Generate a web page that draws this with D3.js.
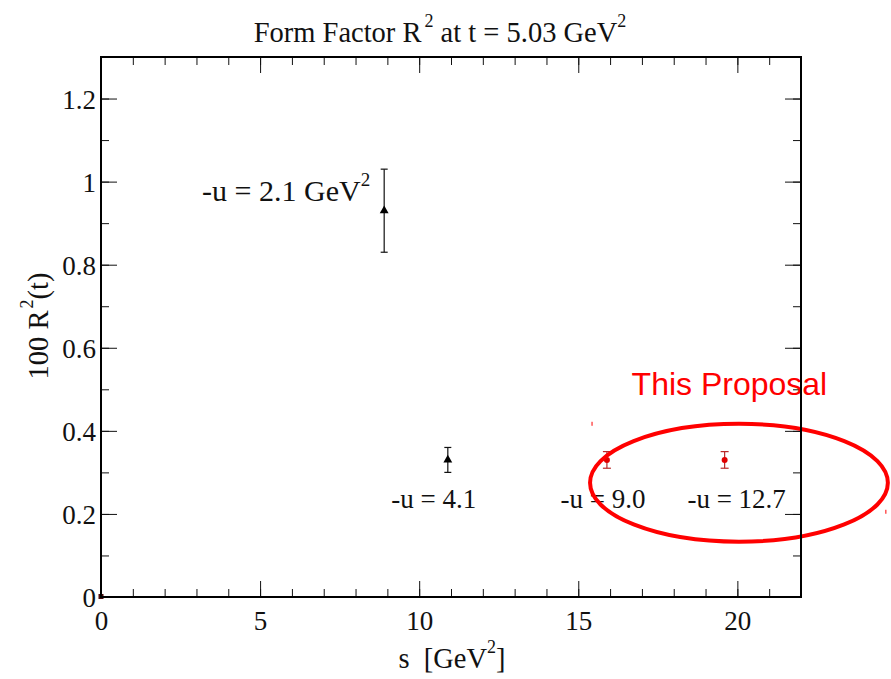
<!DOCTYPE html>
<html>
<head>
<meta charset="utf-8">
<script src="https://cdn.jsdelivr.net/npm/d3@7"></script>
<style>
  html, body { margin: 0; padding: 0; background: #fff; }
  svg { display: block; }
  .serif { font-family: "Liberation Serif", "Times New Roman", serif; }
</style>
</head>
<body>
<svg id="chart" width="891" height="679"></svg>
<script>
// Measured points (black triangles)
const measuredS   = [8.9, 10.9];
const measuredR   = [0.93, 0.33];
const measuredErr = [0.10, 0.03];
const measuredU   = ["2.1", "4.1"];

// Proposed points (red)
const proposalS   = [15.9, 19.6];
const proposalR   = [0.33, 0.33];
const proposalErr = [0.02, 0.02];
const proposalU   = ["9.0", "12.7"];

// Reference point at the origin
const originS = [0];
const originR = [0];

// Axis ticks
const xTicks = [0, 5, 10, 15, 20];
const xTickLabels = ["0", "5", "10", "15", "20"];
const xMinor = d3.range(0, 23, 1);
const yTicks = [0, 0.2, 0.4, 0.6, 0.8, 1.0, 1.2];
const yTickLabels = ["0", "0.2", "0.4", "0.6", "0.8", "1", "1.2"];
const yMinor = d3.range(0, 13).map(i => i / 10);

const svg = d3.select("#chart");
const plotL = 101, plotR = 801, plotT = 57, plotB = 597;

const x = d3.scaleLinear().domain([0, 22]).range([plotL, plotR]);
const y = d3.scaleLinear().domain([0, 1.3]).range([plotB, plotT]);

const FS = 27;    // tick labels
const FT = 28.5;  // titles and point labels

// Title
const title = svg.append("text").attr("class", "serif")
  .attr("x", 440).attr("y", 42).attr("text-anchor", "middle")
  .attr("font-size", FT).attr("fill", "#111");
title.append("tspan").text("Form Factor R");
title.append("tspan").attr("dx", 3).attr("dy", -15).attr("font-size", 18).text("2");
title.append("tspan").attr("dy", 15).text(" at t = 5.03 GeV");
title.append("tspan").attr("dy", -15).attr("font-size", 18).text("2");

// Axis title (x)
const xl = svg.append("text").attr("class", "serif")
  .attr("x", 452).attr("y", 668).attr("text-anchor", "middle")
  .attr("font-size", FT).attr("fill", "#111");
xl.append("tspan").text("s\u00a0\u00a0[GeV");
xl.append("tspan").attr("dy", -15).attr("font-size", 18).text("2");
xl.append("tspan").attr("dy", 15).text("]");

// Axis title (y)
const yl = svg.append("text").attr("class", "serif")
  .attr("transform", "translate(48,326) rotate(-90)")
  .attr("text-anchor", "middle")
  .attr("font-size", FT).attr("fill", "#111");
yl.append("tspan").text("100 R");
yl.append("tspan").attr("dx", 2).attr("dy", -15).attr("font-size", 18).text("2");
yl.append("tspan").attr("dy", 15).text("(t)");

// Axes: major ticks with labels, minor ticks, drawn inward on all four sides
function styleAxis(g) {
  g.select(".domain").remove();
  g.selectAll(".tick line").attr("stroke", "#111").attr("stroke-width", 1);
}

const gxB = svg.append("g").attr("transform", `translate(0,${plotB})`)
  .call(d3.axisBottom(x).tickValues(xTicks)
    .tickFormat((d, i) => xTickLabels[i]).tickSize(-16).tickPadding(8));
styleAxis(gxB);
gxB.selectAll("text").attr("class", "serif").attr("font-size", FS)
  .attr("fill", "#111").attr("dy", null).attr("y", 33);

svg.append("g").attr("transform", `translate(0,${plotB})`)
  .call(d3.axisBottom(x).tickValues(xMinor).tickFormat("").tickSize(-8)).call(styleAxis);
svg.append("g").attr("transform", `translate(0,${plotT})`)
  .call(d3.axisTop(x).tickValues(xTicks).tickFormat("").tickSize(-16)).call(styleAxis);
svg.append("g").attr("transform", `translate(0,${plotT})`)
  .call(d3.axisTop(x).tickValues(xMinor).tickFormat("").tickSize(-8)).call(styleAxis);

const gyL = svg.append("g").attr("transform", `translate(${plotL},0)`)
  .call(d3.axisLeft(y).tickValues(yTicks)
    .tickFormat((d, i) => yTickLabels[i]).tickSize(-16).tickPadding(5));
styleAxis(gyL);
gyL.selectAll("text").attr("class", "serif").attr("font-size", FS)
  .attr("fill", "#111").attr("dy", "0.36em");

svg.append("g").attr("transform", `translate(${plotL},0)`)
  .call(d3.axisLeft(y).tickValues(yMinor).tickFormat("").tickSize(-8)).call(styleAxis);
svg.append("g").attr("transform", `translate(${plotR},0)`)
  .call(d3.axisRight(y).tickValues(yTicks).tickFormat("").tickSize(-16)).call(styleAxis);
svg.append("g").attr("transform", `translate(${plotR},0)`)
  .call(d3.axisRight(y).tickValues(yMinor).tickFormat("").tickSize(-8)).call(styleAxis);

// Error bars with caps
function errorBars(sArr, rArr, eArr, color, capW) {
  const g = svg.append("g").attr("stroke", color).attr("stroke-width", 1.2);
  sArr.forEach((s, i) => {
    const cx = x(s), y1 = y(rArr[i] + eArr[i]), y2 = y(rArr[i] - eArr[i]);
    g.append("line").attr("x1", cx).attr("x2", cx).attr("y1", y1).attr("y2", y2);
    g.append("line").attr("x1", cx - capW).attr("x2", cx + capW).attr("y1", y1).attr("y2", y1);
    g.append("line").attr("x1", cx - capW).attr("x2", cx + capW).attr("y1", y2).attr("y2", y2);
  });
}
errorBars(measuredS, measuredR, measuredErr, "#111", 3.5);
errorBars(proposalS, proposalR, proposalErr, "#b82828", 4);

// Markers
const tri = d3.symbol().type(d3.symbolTriangle).size(34);
svg.append("g").selectAll("path").data(measuredS).join("path")
  .attr("d", tri)
  .attr("transform", (d, i) => `translate(${x(d)},${y(measuredR[i])})`)
  .attr("fill", "#000");

svg.append("g").selectAll("circle").data(proposalS).join("circle")
  .attr("cx", d => x(d)).attr("cy", (d, i) => y(proposalR[i]))
  .attr("r", 3).attr("fill", "#e00000");

svg.append("g").selectAll("rect").data(originS).join("rect")
  .attr("x", d => x(d) - 2.5).attr("y", (d, i) => y(originR[i]) - 3)
  .attr("width", 5).attr("height", 5).attr("fill", "#4a0a0a");

// Point labels (-u values)
const lbl1 = svg.append("text").attr("class", "serif")
  .attr("x", x(measuredS[0]) - 14).attr("y", y(measuredR[0]) - 10)
  .attr("text-anchor", "end").attr("font-size", 30).attr("fill", "#111");
lbl1.append("tspan").text(`-u = ${measuredU[0]} GeV`);
lbl1.append("tspan").attr("dy", -15).attr("font-size", 19).text("2");

const rowY = y(proposalR[0]) + 48;
svg.append("text").attr("class", "serif")
  .attr("x", x(measuredS[1]) - 14).attr("y", rowY)
  .attr("text-anchor", "middle").attr("font-size", FS).attr("fill", "#111")
  .text(`-u = ${measuredU[1]}`);
svg.append("text").attr("class", "serif")
  .attr("x", x(proposalS[0]) - 4).attr("y", rowY)
  .attr("text-anchor", "middle").attr("font-size", FS).attr("fill", "#111")
  .text(`-u = ${proposalU[0]}`);
svg.append("text").attr("class", "serif")
  .attr("x", x(proposalS[1]) + 12).attr("y", rowY)
  .attr("text-anchor", "middle").attr("font-size", FS).attr("fill", "#111")
  .text(`-u = ${proposalU[1]}`);

// Highlight around the proposed points
const ringCenter = { s: 20.05, r: 0.275 };
const ringRadius = { s: 4.68, r: 0.142 };
const ex = x(ringCenter.s), ey = y(ringCenter.r);
const erx = x(ringRadius.s) - x(0), ery = y(0) - y(ringRadius.r);
svg.append("ellipse")
  .attr("cx", ex).attr("cy", ey).attr("rx", erx).attr("ry", ery)
  .attr("fill", "none").attr("stroke", "#ff0000").attr("stroke-width", 4);
svg.append("line").attr("x1", ex - erx + 2).attr("x2", ex - erx + 2)
  .attr("y1", ey - ery - 2).attr("y2", ey - ery + 2)
  .attr("stroke", "#ff0000").attr("stroke-width", 1);
svg.append("line").attr("x1", ex + erx - 2).attr("x2", ex + erx - 2)
  .attr("y1", ey + 27).attr("y2", ey + 31)
  .attr("stroke", "#ff0000").attr("stroke-width", 1);

svg.append("text")
  .attr("x", x(19.75)).attr("y", y(0.487))
  .attr("text-anchor", "middle")
  .attr("font-family", "'Liberation Sans', Arial, sans-serif")
  .attr("font-size", 32).attr("fill", "#ff0000")
  .text("This Proposal");

// Plot frame
svg.append("rect")
  .attr("x", plotL).attr("y", plotT)
  .attr("width", plotR - plotL).attr("height", plotB - plotT)
  .attr("fill", "none").attr("stroke", "#000").attr("stroke-width", 2);
</script>
</body>
</html>
